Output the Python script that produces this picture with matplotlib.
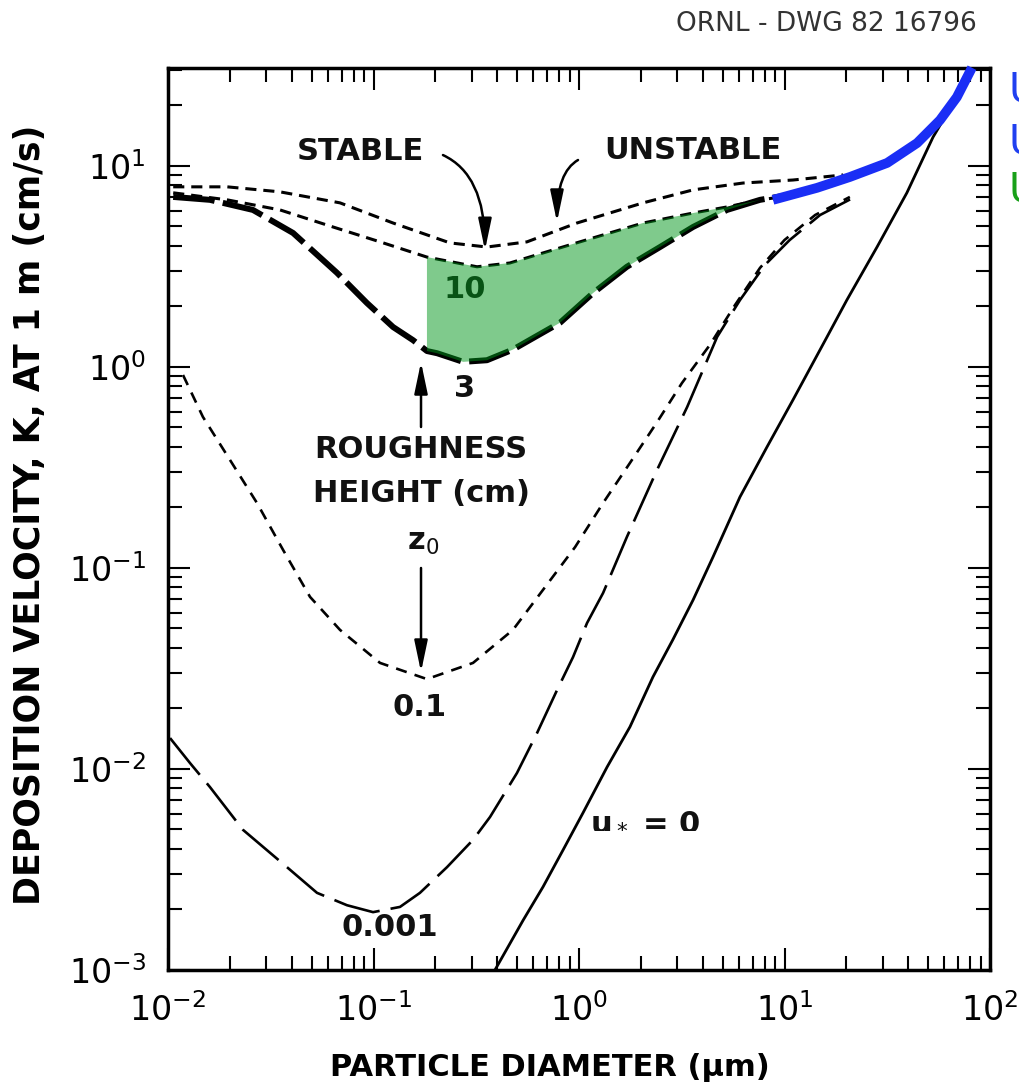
import matplotlib.pyplot as plt
from matplotlib.ticker import LogLocator, NullFormatter
import numpy as np

plt.rcParams['font.family'] = 'DejaVu Sans'
plt.rcParams['lines.scale_dashes'] = False

# particle diameter (um) and deposition velocity K (cm/s)
unstable_d = [0.0106, 0.0194, 0.0351, 0.0687, 0.1245, 0.2355, 0.3565, 0.558, 0.977, 2.05, 3.59, 6.28, 11.0, 19.3]
unstable_k = [7.87, 7.87, 7.43, 6.55, 5.20, 4.14, 3.95, 4.19, 5.20, 6.55, 7.60, 8.22, 8.51, 9.02]

stable_d = [0.0106, 0.0194, 0.0351, 0.0635, 0.1076, 0.182, 0.319, 0.461, 0.668, 1.01, 2.05, 3.59, 5.25, 7.60, 10.6]
stable_k = [7.35, 6.78, 6.04, 4.97, 4.19, 3.52, 3.15, 3.29, 3.69, 4.19, 5.20, 5.83, 6.25, 6.78, 7.10]

z3_d = [0.0106, 0.0160, 0.0259, 0.0406, 0.0664, 0.0929, 0.1245, 0.1556, 0.182, 0.204, 0.273, 0.3565,
        0.477, 0.809, 1.17, 1.71, 2.48, 3.59, 5.25, 7.60, 10.6]
z3_k = [7.01, 6.78, 6.04, 4.64, 2.94, 2.08, 1.58, 1.36, 1.20, 1.17, 1.06, 1.08,
        1.22, 1.66, 2.33, 3.15, 3.95, 4.97, 6.04, 6.78, 7.18]

z01_d = [0.01183, 0.01479, 0.02005, 0.0271, 0.0363, 0.0491, 0.0687, 0.1076, 0.182, 0.305, 0.477, 0.668,
         0.957, 1.31, 1.77, 2.40, 3.17, 4.34, 5.74, 7.60, 10.0, 14.1, 20.8]
z01_k = [0.912, 0.564, 0.344, 0.2105, 0.123, 0.0718, 0.0492, 0.0337, 0.0280, 0.0337, 0.0492, 0.0778,
         0.127, 0.2105, 0.333, 0.532, 0.832, 1.29, 2.03, 3.11, 4.28, 5.70, 7.01]

z0001_d = [0.01023, 0.01279, 0.0160, 0.02317, 0.0379, 0.0531, 0.0743, 0.0995, 0.1346, 0.1683, 0.228, 0.305,
           0.369, 0.499, 0.625, 0.782, 0.935, 1.094, 1.31, 1.71, 2.40, 3.36, 4.70, 6.07, 8.04, 10.6, 14.9, 22.0]
z0001_k = [0.01425, 0.01071, 0.00813, 0.00498, 0.00325, 0.00242, 0.00210, 0.00194, 0.00206, 0.00242, 0.00325, 0.00444,
           0.00577, 0.00955, 0.0151, 0.0247, 0.0360, 0.0532, 0.0751, 0.1426, 0.308, 0.632, 1.41, 2.15, 3.22, 4.28, 5.70, 7.01]

ustar0_d = [0.390, 0.535, 0.668, 0.836, 1.045, 1.37, 1.77, 2.29, 2.86, 3.59, 4.49, 6.07, 8.22, 11.0,
            16.1, 20.1, 28.2, 39.4, 52.8, 67.6, 84.5]
ustar0_k = [0.001, 0.00177, 0.00259, 0.00395, 0.00604, 0.01023, 0.0162, 0.0287, 0.0439, 0.0693, 0.1135, 0.2255, 0.400, 0.686,
            1.41, 2.15, 3.95, 7.35, 13.9, 21.3, 30.8]

blue_d = [8.79, 14.4, 20.8, 31.6, 44.2, 57.1, 69.0, 81.7]
blue_k = [6.78, 7.78, 8.81, 10.35, 13.0, 16.9, 22.0, 30.8]

# shaded band between the stable z0=10 curve and the z0=3 curve
band_lo, band_hi = 0.182, 7.60

fig = plt.figure(figsize=(10.19, 10.83), dpi=100)
ax = fig.add_axes([168 / 1019, 113 / 1083, 822 / 1019, 902 / 1083])
ax.set_xscale('log')
ax.set_yscale('log')
ax.set_xlim(1e-2, 1e2)
ax.set_ylim(1e-3, 30.7)

ax.plot(unstable_d, unstable_k, color='k', lw=2.2, dashes=(8, 5))
ax.plot(stable_d, stable_k, color='k', lw=2.2, dashes=(8, 5))
ax.plot(z3_d, z3_k, color='k', lw=4.3, dashes=(30, 6))
ax.plot(z01_d, z01_k, color='k', lw=1.9, dashes=(8, 6))
ax.plot(z0001_d, z0001_k, color='k', lw=1.9, dashes=(34, 8))
ax.plot(ustar0_d, ustar0_k, color='k', lw=2.0)

poly_d = [d for d in stable_d if band_lo <= d <= band_hi]
poly_k = [k for d, k in zip(stable_d, stable_k) if band_lo <= d <= band_hi]
lo_pts = [(d, k) for d, k in zip(z3_d, z3_k) if band_lo <= d <= band_hi][::-1]
poly_d += [p[0] for p in lo_pts]
poly_k += [p[1] for p in lo_pts]
ax.fill(poly_d, poly_k, color='#00961a', alpha=0.5, lw=0, zorder=4)

ax.plot(blue_d, blue_k, color='#1a2ef5', lw=7, solid_capstyle='butt', zorder=5, clip_on=False)

# text labels
tk = dict(transform=ax.transAxes, ha='center', va='center', fontsize=22, fontweight='bold', color='#111111')
ax.text(0.234, 0.907, 'STABLE', **tk)
ax.text(0.639, 0.909, 'UNSTABLE', **tk)
ax.text(0.361, 0.754, '10', zorder=3, **tk)
ax.text(0.361, 0.645, '3', **tk)
ax.text(0.308, 0.5765, 'ROUGHNESS', **tk)
ax.text(0.308, 0.5288, 'HEIGHT (cm)', **tk)
ax.text(0.310, 0.4734, 'z$_0$', **tk)
ax.text(0.3066, 0.2905, '0.1', **tk)
ax.text(0.2701, 0.0466, '0.001', **tk)
ax.text(0.5803, 0.1663, 'u$_*$ = 0', **tk)

arr = dict(arrowstyle='-|>,head_length=0.95,head_width=0.2', mutation_scale=20,
           color='k', lw=1.8, shrinkA=0, shrinkB=0)
ax.annotate('', xy=(0.3856, 0.798), xytext=(0.3345, 0.9035), xycoords='axes fraction',
            arrowprops=dict(connectionstyle='angle3,angleA=-25,angleB=90', **arr))
ax.annotate('', xy=(0.4732, 0.8293), xytext=(0.4988, 0.898), xycoords='axes fraction',
            arrowprops=dict(connectionstyle='angle3,angleA=210,angleB=90', **arr))
ax.annotate('', xy=(0.3078, 0.674), xytext=(0.3078, 0.602), xycoords='axes fraction', arrowprops=arr)
ax.annotate('', xy=(0.3078, 0.3304), xytext=(0.3078, 0.4457), xycoords='axes fraction', arrowprops=arr)

ax.xaxis.set_major_locator(LogLocator(base=10, numticks=10))
ax.xaxis.set_minor_locator(LogLocator(base=10, subs=np.arange(2, 10), numticks=50))
ax.yaxis.set_major_locator(LogLocator(base=10, numticks=10))
ax.yaxis.set_minor_locator(LogLocator(base=10, subs=np.arange(2, 10), numticks=50))
ax.xaxis.set_minor_formatter(NullFormatter())
ax.yaxis.set_minor_formatter(NullFormatter())
ax.tick_params(which='both', direction='in', top=True, right=True, width=1.5, labelsize=24)
ax.tick_params(which='major', length=16)
ax.tick_params(which='minor', length=10)
ax.tick_params(axis='x', pad=17)
ax.tick_params(axis='y', pad=16)
for s in ax.spines.values():
    s.set_linewidth(2.5)

ax.set_xlabel('PARTICLE DIAMETER (\u00b5m)', fontsize=22, fontweight='bold')
ax.xaxis.set_label_coords(0.4647, -0.092)
ax.set_ylabel('DEPOSITION VELOCITY, K, AT 1 m (cm/s)', fontsize=25, fontweight='bold')
ax.yaxis.set_label_coords(-0.147, 0.5044)

fig.text(826 / 1019, 1 - 24 / 1083, 'ORNL - DWG 82 16796', ha='center', va='center',
         fontsize=19, color='#333333')
fig.text(1009 / 1019, 1 - 70 / 1083, 'U', color='#2040f0', fontsize=29, va='top')
fig.text(1009 / 1019, 1 - 122 / 1083, 'U', color='#2040f0', fontsize=29, va='top')
fig.text(1009 / 1019, 1 - 170 / 1083, 'U', color='#19a019', fontsize=29, va='top')

fig.savefig('out.png', dpi=100)
